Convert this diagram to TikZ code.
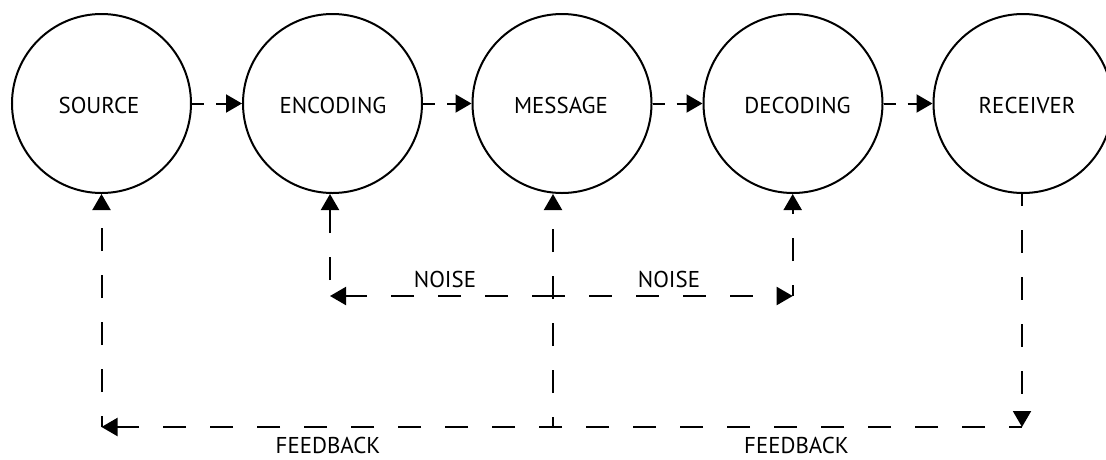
\documentclass[tikz,border=0pt]{standalone}
\usepackage{fontspec}
\setmainfont{PT Sans}
\usetikzlibrary{arrows.meta}

\tikzset{
  stage/.style={circle, draw=black, line width=2pt, fill=white,
                minimum size=179pt, inner sep=0pt},
  lbl/.style={font=\fontsize{22.9}{26}\selectfont, anchor=base, inner sep=0pt},
  tip/.style={-{Triangle[length=16pt, width=18pt]}},
  link/.style={tip, line width=2pt, dash pattern=on 12pt off 12pt},
  loop/.style={line width=2pt, dash pattern=on 23pt off 24pt},
}

\begin{document}
\begin{tikzpicture}[x=1pt, y=-1pt]
  \useasboundingbox (0,0) rectangle (1106,459);
  \clip (0,0) rectangle (1106,459);
  \fill[white] (0,0) rectangle (1106,459);

  % stages of the communication process
  \node[stage] (S) at (101.5,103.5) {};
  \node[stage] (E) at (332.5,103.5) {};
  \node[stage] (M) at (562,103.5) {};
  \node[stage] (D) at (793,103.5) {};
  \node[stage] (R) at (1023,103.5) {};

  \node[lbl] (tS) at (99,113) {SOURCE};
  \node[lbl] (tE) at (333,113) {ENCODING};
  \node[lbl] (tM) at (561,113) {MESSAGE};
  \node[lbl] (tD) at (797.5,113) {DECODING};
  \node[lbl] (tR) at (1027,113) {RECEIVER};

  % forward chain
  \draw[link] (S.east) -- (E.west);
  \draw[link] (E.east) -- (M.west);
  \draw[link] (M.east) -- (D.west);
  \draw[link] (D.east) -- (R.west);

  % corner points of the noise and feedback loops
  \coordinate (fbR) at (1022,427);
  \coordinate (fbL) at (101.5,427);
  \coordinate (fbM) at (553,427);
  \coordinate (nzM) at (553,296);
  \coordinate (nzL) at (330,296);
  \coordinate (nzR) at (792.7,296);

  % feedback loop
  \draw[loop, tip, dash phase=11pt] (fbR |- R.south) -- (fbR);
  \draw[loop, tip, dash phase=10pt] (fbR) -- (fbL);
  \draw[loop, tip, dash phase=12pt] (fbL) -- (fbL |- S.south);
  \draw[loop, tip, dash phase=13pt] (fbM) -- (fbM |- M.south);

  % noise loop
  \draw[loop, tip, dash phase=2pt] (nzM) -- (nzL);
  \draw[loop, tip, dash phase=11pt] (nzM) -- (nzR);
  \draw[loop, tip, dash phase=31pt] (nzL) -- (nzL |- E.south);
  \draw[loop, tip, dash phase=12pt] (nzR) -- (nzR |- D.south);

  \node[lbl] (n1) at (445,287) {NOISE};
  \node[lbl] (n2) at (669,287) {NOISE};
  \node[lbl] (f1) at (328,453) {FEEDBACK};
  \node[lbl] (f2) at (796.5,453) {FEEDBACK};
\end{tikzpicture}
\end{document}
